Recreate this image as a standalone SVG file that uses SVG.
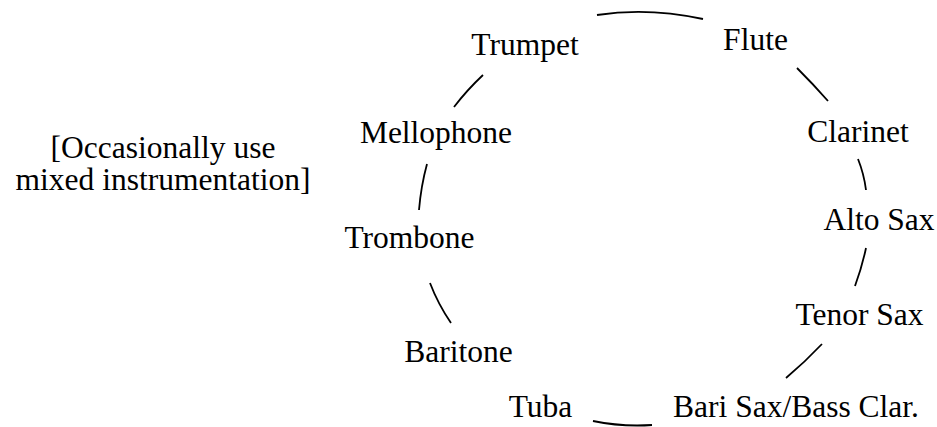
<svg xmlns="http://www.w3.org/2000/svg" width="937" height="427" viewBox="0 0 937 427">
<style>
text { font-size: 31.5px; fill: #000; text-anchor: middle; }
.c path { fill: none; stroke: #000; stroke-width: 1.8; }
</style>
<rect width="937" height="427" fill="#fff"/>
<g class="c" id="connectors">
<path d="M597,15 Q648,7 703,19"/>
<path d="M797,68 Q814,85 828,101"/>
<path d="M858,159 Q864,174 866,190"/>
<path d="M866,248 Q862,267 855,286"/>
<path d="M822,344 Q805,362 786,378"/>
<path d="M593,421 Q622,427 652,425"/>
<path d="M451,323 Q438,304 430,283"/>
<path d="M419,210 Q421,186 427,164"/>
<path d="M454,107 Q467,90 483,75"/>
</g>
<g font-family="'Liberation Serif', 'DejaVu Serif', serif">
<g id="trumpet"><text x="525" y="55">Trumpet</text></g>
<g id="flute"><text x="755.5" y="50">Flute</text></g>
<g id="clarinet"><text x="858" y="142">Clarinet</text></g>
<g id="altosax"><text x="879" y="230">Alto Sax</text></g>
<g id="tenorsax"><text x="859.5" y="325">Tenor Sax</text></g>
<g id="barisax"><text x="796" y="417">Bari Sax/Bass Clar.</text></g>
<g id="tuba"><text x="540.5" y="417">Tuba</text></g>
<g id="baritone"><text x="458.5" y="362">Baritone</text></g>
<g id="trombone"><text x="409.5" y="248">Trombone</text></g>
<g id="mellophone"><text x="436" y="143">Mellophone</text></g>
<g id="note"><text x="163" y="158">[Occasionally use</text><text x="163" y="190">mixed instrumentation]</text></g>
</g>
</svg>
